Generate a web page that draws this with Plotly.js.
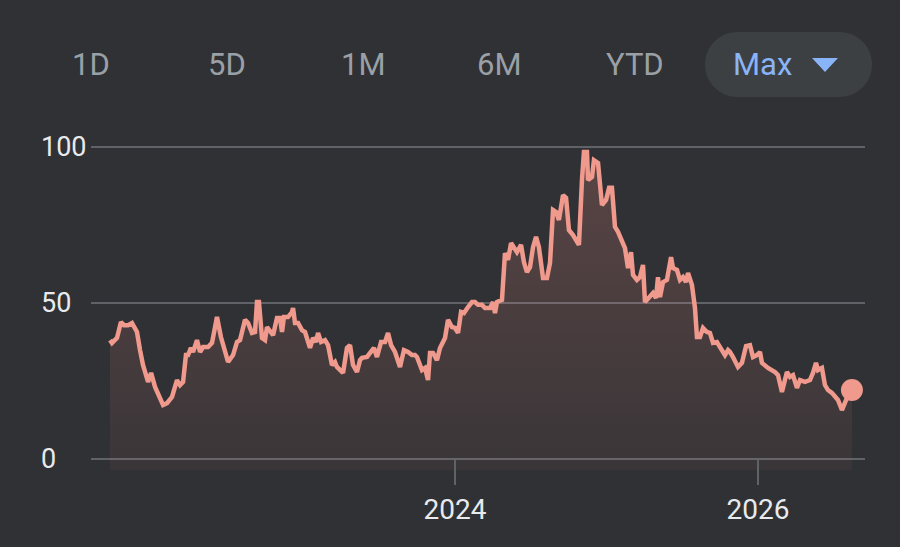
<!DOCTYPE html>
<html>
<head>
<meta charset="utf-8">
<script src="https://cdn.plot.ly/plotly-3.0.1.min.js"></script>
<style>
  html, body { margin: 0; padding: 0; background: #303134; }
  #chart { width: 900px; height: 547px; }
</style>
</head>
<body>
<div id="chart"></div>
<script>
// ---- Data (decimal year, price) ----
const years = [
  2021.723, 2021.736, 2021.769, 2021.795, 2021.815, 2021.842, 2021.868, 2021.901, 2021.921, 2021.941,
  2021.974, 2021.994, 2022.020, 2022.053, 2022.073, 2022.099, 2022.132, 2022.165, 2022.185, 2022.205,
  2022.224, 2022.238, 2022.257, 2022.271, 2022.297, 2022.317, 2022.337, 2022.370, 2022.396, 2022.429,
  2022.455, 2022.502, 2022.535, 2022.561, 2022.581, 2022.614, 2022.634, 2022.660, 2022.680, 2022.693,
  2022.706, 2022.726, 2022.746, 2022.759, 2022.779, 2022.799, 2022.825, 2022.845, 2022.858, 2022.871,
  2022.898, 2022.924, 2022.931, 2022.944, 2022.964, 2022.990, 2023.010, 2023.043, 2023.063, 2023.083,
  2023.096, 2023.116, 2023.142, 2023.162, 2023.188, 2023.208, 2023.221, 2023.261, 2023.287, 2023.307,
  2023.327, 2023.353, 2023.373, 2023.386, 2023.419, 2023.452, 2023.465, 2023.485, 2023.512, 2023.538,
  2023.558, 2023.578, 2023.604, 2023.637, 2023.663, 2023.690, 2023.716, 2023.736, 2023.749, 2023.782,
  2023.802, 2023.822, 2023.835, 2023.855, 2023.881, 2023.901, 2023.934, 2023.954, 2023.980, 2024.000,
  2024.020, 2024.040, 2024.059, 2024.086, 2024.112, 2024.132, 2024.152, 2024.178, 2024.198, 2024.211,
  2024.231, 2024.251, 2024.264, 2024.277, 2024.310, 2024.330, 2024.350, 2024.370, 2024.396, 2024.409,
  2024.436, 2024.455, 2024.475, 2024.495, 2024.515, 2024.535, 2024.554, 2024.581, 2024.607, 2024.627,
  2024.647, 2024.667, 2024.686, 2024.713, 2024.733, 2024.752, 2024.779, 2024.805, 2024.818, 2024.838,
  2024.851, 2024.871, 2024.878, 2024.904, 2024.917, 2024.944, 2024.970, 2024.997, 2025.017, 2025.036,
  2025.056, 2025.076, 2025.102, 2025.122, 2025.142, 2025.162, 2025.175, 2025.201, 2025.221, 2025.241,
  2025.254, 2025.287, 2025.307, 2025.327, 2025.340, 2025.353, 2025.373, 2025.399, 2025.426, 2025.439,
  2025.465, 2025.485, 2025.505, 2025.525, 2025.538, 2025.564, 2025.584, 2025.597, 2025.617, 2025.637,
  2025.663, 2025.683, 2025.703, 2025.729, 2025.749, 2025.782, 2025.802, 2025.815, 2025.835, 2025.868,
  2025.894, 2025.921, 2025.947, 2025.967, 2025.993, 2026.013, 2026.026, 2026.066, 2026.112, 2026.132,
  2026.158, 2026.191, 2026.211, 2026.231, 2026.257, 2026.277, 2026.310, 2026.343, 2026.363, 2026.383,
  2026.396, 2026.422, 2026.442, 2026.462, 2026.488, 2026.508, 2026.528, 2026.554, 2026.587, 2026.620
];
const prices = [
  38.1, 37.2, 38.8, 43.9, 42.9, 42.9, 43.6, 40.7, 34.9, 30.1,
  24.7, 27.6, 23.1, 19.9, 17.3, 17.9, 19.9, 25.3, 23.7, 24.7,
  33.3, 33.3, 35.6, 34.3, 38.1, 34.3, 35.9, 35.9, 37.2, 45.5,
  39.1, 31.1, 33.3, 37.5, 38.1, 44.6, 43.6, 40.4, 40.7, 50.3,
  50.3, 38.8, 38.1, 42.3, 40.7, 39.7, 45.2, 45.2, 40.7, 45.5,
  45.5, 47.1, 48.4, 43.6, 43.6, 41.3, 40.7, 35.6, 38.8, 37.5,
  40.4, 37.5, 38.1, 36.5, 30.1, 31.1, 29.5, 27.6, 35.6, 36.5,
  30.1, 27.9, 31.7, 32.4, 32.7, 34.9, 35.6, 32.7, 37.5, 37.5,
  40.4, 36.5, 34.3, 29.5, 34.9, 34.3, 33.3, 33.3, 32.7, 28.5,
  29.2, 25.3, 34.0, 34.0, 31.7, 35.6, 38.8, 44.6, 42.3, 42.0,
  40.4, 47.1, 46.8, 48.7, 50.3, 50.3, 49.4, 49.4, 48.4, 48.4,
  48.4, 50.3, 46.8, 50.3, 51.0, 66.0, 63.8, 69.2, 67.0, 66.3,
  68.6, 63.1, 59.9, 61.5, 67.9, 71.2, 67.9, 58.0, 58.0, 62.8,
  79.8, 79.2, 76.6, 84.6, 83.7, 73.4, 71.8, 69.2, 68.6, 89.4,
  98.4, 98.4, 89.4, 90.4, 95.8, 94.9, 81.4, 83.0, 86.9, 86.9,
  74.4, 72.8, 69.6, 67.6, 61.2, 66.3, 59.0, 57.4, 58.3, 62.2,
  50.3, 51.9, 53.2, 51.6, 58.3, 51.9, 56.7, 57.4, 64.7, 61.2,
  60.6, 57.4, 58.3, 56.7, 59.6, 55.8, 48.4, 39.1, 39.1, 42.0,
  40.7, 40.4, 37.2, 37.5, 35.9, 33.3, 34.9, 34.3, 32.7, 29.5,
  30.8, 36.2, 36.5, 32.7, 33.3, 34.3, 30.8, 29.2, 27.9, 26.9,
  21.5, 27.9, 26.3, 26.9, 22.8, 25.3, 24.7, 25.3, 27.6, 30.8,
  28.5, 29.2, 23.7, 22.1, 21.2, 19.9, 18.9, 15.7, 19.6, 22.1
];
const yTickVals = [0, 50, 100];
const yTickText = ["0", "50", "100"];
const xTickVals = [2024, 2026];
const xTickText = ["2024", "2026"];
const rangeButtons = ["1D", "5D", "1M", "6M", "YTD", "Max"];
const activeButton = "Max";

// ---- Styling / geometry ----
const W = 900, H = 547, ML = 37, MR = 35, MT = 130, MB = 66;
const PXPU = 3.12;           // pixels per price unit
const ZERO_PX = 459;         // pixel row of price 0
const FILL_BASE = -3.5;
const BG = "#303134";
const LINE = "#f0998d";
const GRID = "#5f6368";
const FONT = "Roboto, 'Open Sans', Arial, sans-serif";
const pw = W - ML - MR, ph = H - MT - MB;
const px2x = p => (p - ML) / pw;
const px2y = p => (H - MB - p) / ph;

const last = years.length - 1;
const traces = [
  { x: [years[0], years[last]], y: [FILL_BASE, FILL_BASE], mode: "lines",
    line: { width: 0, color: "rgba(0,0,0,0)" }, hoverinfo: "skip", showlegend: false },
  { x: years, y: prices, mode: "lines", line: { color: LINE, width: 4.5 },
    fill: "tonexty",
    fillgradient: { type: "vertical", start: FILL_BASE, stop: 100,
      colorscale: [[0, "rgba(242,139,130,0.05)"], [1, "rgba(242,139,130,0.22)"]] },
    hoverinfo: "skip", showlegend: false },
  { x: [years[last]], y: [prices[last]], mode: "markers",
    marker: { size: 22, color: LINE }, hoverinfo: "skip", showlegend: false }
];

// Buttons row
const btnCenters = [91, 227, 363, 499, 635, 762];
const annotations = rangeButtons.map((b, i) => ({
  xref: "paper", yref: "paper", x: px2x(btnCenters[i]), y: px2y(64),
  xanchor: "center", yanchor: "middle", showarrow: false, text: b,
  font: { family: FONT, size: 31, color: b === activeButton ? "#8ab4f8" : "#9aa0a6" }
}));

const P2 = (px, py) => px2x(px).toFixed(5) + "," + px2y(py).toFixed(5);
function pillPath(x0, x1, y0, y1) {
  const r = (y1 - y0) / 2, k = 0.5523 * r;
  return "M" + P2(x0 + r, y0) + " L" + P2(x1 - r, y0) +
    " C" + P2(x1 - r + k, y0) + " " + P2(x1, y0 + r - k) + " " + P2(x1, y0 + r) +
    " C" + P2(x1, y0 + r + k) + " " + P2(x1 - r + k, y1) + " " + P2(x1 - r, y1) +
    " L" + P2(x0 + r, y1) +
    " C" + P2(x0 + r - k, y1) + " " + P2(x0, y0 + r + k) + " " + P2(x0, y0 + r) +
    " C" + P2(x0, y0 + r - k) + " " + P2(x0 + r - k, y0) + " " + P2(x0 + r, y0) + " Z";
}
const shapes = [
  { type: "path", xref: "paper", yref: "paper", path: pillPath(705, 872, 32, 97),
    fillcolor: "#3c4043", line: { width: 0 }, layer: "below" },
  { type: "path", xref: "paper", yref: "paper",
    path: "M" + P2(812, 58) + " L" + P2(838, 58) + " L" + P2(825, 72) + " Z",
    fillcolor: "#8ab4f8", line: { width: 0 } }
];

const layout = {
  width: W, height: H,
  margin: { l: ML, r: MR, t: MT, b: MB, pad: 0 },
  paper_bgcolor: BG, plot_bgcolor: BG,
  showlegend: false,
  font: { family: FONT, color: "#e8eaed" },
  xaxis: {
    domain: [px2x(91), 1],
    range: [2024 + (91 - 455) / 151.5, 2024 + (865 - 455) / 151.5],
    anchor: "free", position: px2y(ZERO_PX),
    tickvals: xTickVals, ticktext: xTickText,
    ticks: "outside", ticklen: 25, tickwidth: 2.5, tickcolor: GRID,
    tickfont: { family: FONT, size: 28, color: "#e8eaed" },
    showgrid: false, zeroline: false, showline: false, fixedrange: true
  },
  yaxis: {
    domain: [0, 1],
    range: [-(H - MB - ZERO_PX) / PXPU, (ZERO_PX - MT) / PXPU],
    anchor: "free", position: 0, side: "left",
    ticklabelposition: "inside",
    tickvals: yTickVals, ticktext: yTickText,
    ticks: "", showgrid: true, gridcolor: GRID, gridwidth: 2.5,
    zeroline: false, showline: false, fixedrange: true,
    tickfont: { family: FONT, size: 27, color: "#e8eaed" }
  },
  annotations: annotations,
  shapes: shapes
};

Plotly.newPlot("chart", traces, layout, { displayModeBar: false, staticPlot: true });
</script>
</body>
</html>
